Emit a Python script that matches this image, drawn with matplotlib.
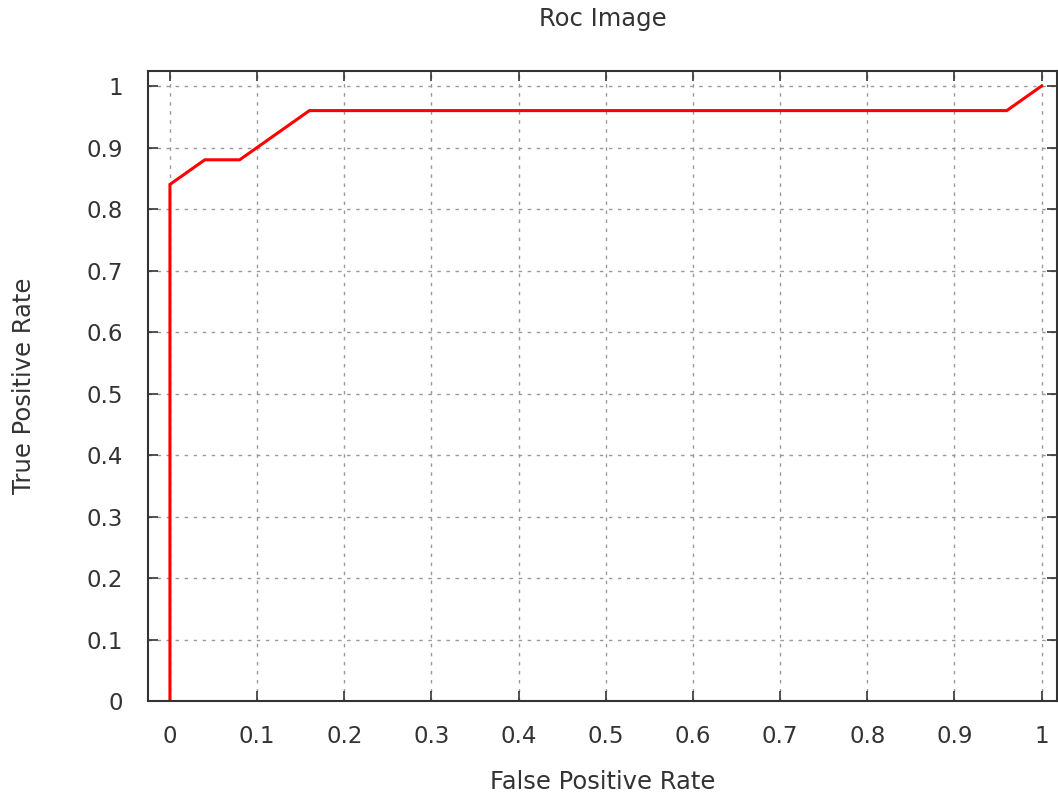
import matplotlib
matplotlib.use("Agg")
import matplotlib.pyplot as plt

fpr = [0.0, 0.0, 0.04, 0.08, 0.16, 0.96, 1.0]
tpr = [0.0, 0.84, 0.88, 0.88, 0.96, 0.96, 1.0]
xticks = [0, 0.1, 0.2, 0.3, 0.4, 0.5, 0.6, 0.7, 0.8, 0.9, 1]
yticks = [0, 0.1, 0.2, 0.3, 0.4, 0.5, 0.6, 0.7, 0.8, 0.9, 1]
tick_labels = ["0", "0.1", "0.2", "0.3", "0.4", "0.5", "0.6", "0.7", "0.8", "0.9", "1"]

plt.rcParams['font.family'] = ['DejaVu Sans']

fig = plt.figure(figsize=(10.58, 7.96), dpi=100)
ax = fig.add_axes([0.1402, 0.1193, 0.8588, 0.7919])
ax.plot(fpr, tpr, color='#ff0000', lw=2.2, solid_joinstyle='miter')
ax.set_xlim(-0.0248, 1.0176)
ax.set_ylim(0, 1.0249)
ax.set_xticks(xticks)
ax.set_xticklabels(tick_labels)
ax.set_yticks(yticks)
ax.set_yticklabels(tick_labels)
ax.tick_params(direction='in', length=7, width=1.2, color='#333333',
               labelsize=16.5, labelcolor='#333333', top=True, right=True)
ax.tick_params(axis='y', pad=18.5)
ax.tick_params(axis='x', pad=17)
ax.grid(True, color='#999999', linestyle=(0, (2.5, 4)), linewidth=1.0)
for s in ax.spines.values():
    s.set_color('#333333')
    s.set_linewidth(1.5)
ax.set_xlabel('False Positive Rate', fontsize=17.5, color='#333333', labelpad=16)
ax.set_ylabel('True Positive Rate', fontsize=17.5, color='#333333', labelpad=36)
ax.set_title('Roc Image', fontsize=17.5, color='#333333', pad=32.5)
fig.savefig('out.png', dpi=100)
